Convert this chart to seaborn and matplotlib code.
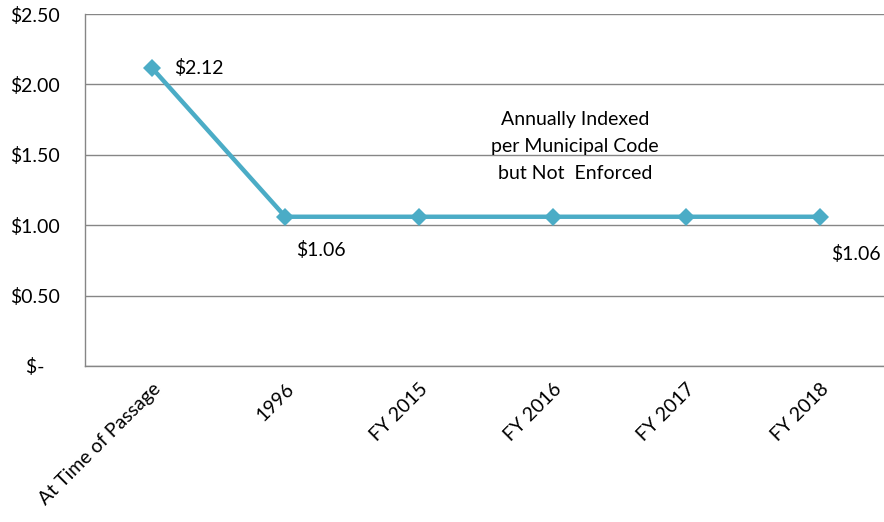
import matplotlib
matplotlib.use("Agg")
import matplotlib.pyplot as plt
import seaborn as sns
import pandas as pd

# chart data
periods = ["At Time of Passage", "1996", "FY 2015", "FY 2016", "FY 2017", "FY 2018"]
fee = [2.12, 1.06, 1.06, 1.06, 1.06, 1.06]
y_ticks = [0, 0.5, 1.0, 1.5, 2.0, 2.5]
y_labels = ["$-   ", "$0.50", "$1.00", "$1.50", "$2.00", "$2.50"]
note = "Annually Indexed\nper Municipal Code\nbut Not  Enforced"

LINE = "#4BACC6"
GRID = "#868686"
FS = 14


def main():
    sns.set_style("white")
    plt.rcParams["font.family"] = ["Lato", "DejaVu Sans"]
    plt.rcParams["text.color"] = "black"
    plt.rcParams["xtick.labelcolor"] = "black"
    plt.rcParams["ytick.labelcolor"] = "black"

    df = pd.DataFrame({"period": periods, "fee": fee})
    df["pos"] = range(len(periods))

    fig = plt.figure(figsize=(8.84, 5.22), dpi=100)
    ax = fig.add_axes([0.096, 0.299, 0.907, 0.674])

    sns.lineplot(data=df, x="pos", y="fee", ax=ax, color=LINE, linewidth=3.2,
                 marker="D", markersize=9, markeredgewidth=0, zorder=3)

    ax.set_xlim(-0.5, len(periods) - 0.5)
    ax.set_ylim(0, 2.5)
    ax.set_yticks(y_ticks)
    ax.set_yticklabels(y_labels, fontsize=FS)
    ax.set_xticks(df["pos"])
    ax.set_xticklabels(periods, rotation=45, ha="right", rotation_mode="anchor", fontsize=FS)
    ax.set_xlabel("")
    ax.set_ylabel("")

    ax.grid(axis="y", color=GRID, linewidth=1)
    ax.grid(axis="x", visible=False)
    for side in ["top", "right"]:
        ax.spines[side].set_visible(False)
    for side in ["left", "bottom"]:
        ax.spines[side].set_color(GRID)
        ax.spines[side].set_linewidth(1)
    ax.tick_params(axis="x", direction="in", length=5, color=GRID, pad=10)
    ax.tick_params(axis="y", length=0, pad=18)

    # value labels
    ax.annotate(f"${fee[0]:.2f}", (0, fee[0]), xytext=(16, 0), textcoords="offset points",
                va="center", ha="left", fontsize=FS)
    ax.annotate(f"${fee[1]:.2f}", (1, fee[1]), xytext=(8, -24), textcoords="offset points",
                va="center", ha="left", fontsize=FS)
    ax.annotate(f"${fee[-1]:.2f}", (5, fee[-1]), xytext=(8, -27), textcoords="offset points",
                va="center", ha="left", fontsize=FS)

    ax.text(3.17, 1.56, note, ha="center", va="center", fontsize=FS, linespacing=1.7)

    fig.savefig("out.png", dpi=100)


if __name__ == "__main__":
    main()
